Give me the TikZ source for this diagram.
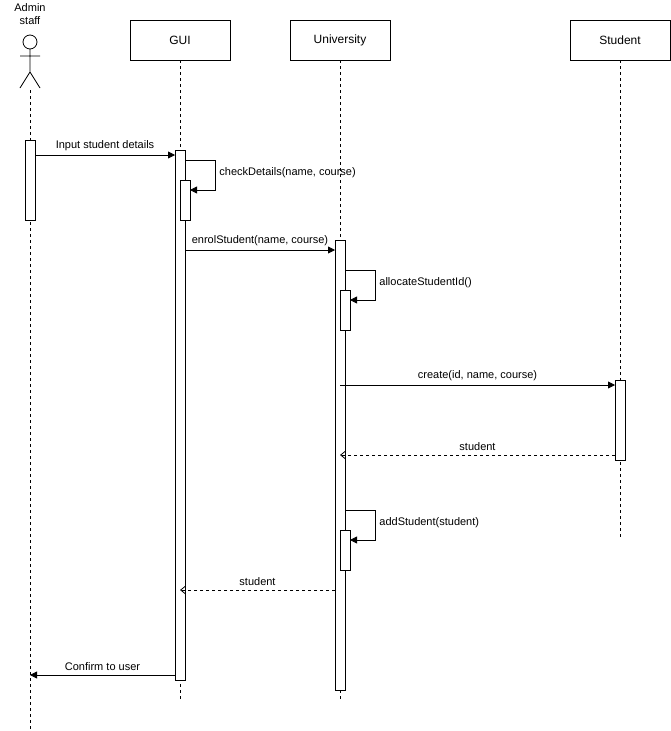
\documentclass[tikz,border=0pt]{standalone}
\usepackage{fontspec}
\setmainfont{Liberation Sans}
\usetikzlibrary{arrows.meta}
\begin{document}
\begin{tikzpicture}[x=1pt,y=-1pt,line width=0.8pt,
  box/.style={draw,fill=white,minimum width=100pt,minimum height=40pt,font=\fontsize{12}{14}\selectfont},
  life/.style={dash pattern=on 3pt off 3pt},
  act/.style={draw,fill=white},
  msg/.style={-{Triangle[length=7pt,width=7pt]}},
  ret/.style={dashed,-{Straight Barb[length=5pt,width=8pt]}},
  lbl/.style={font=\fontsize{11}{13}\selectfont,inner sep=1pt},
  ml/.style={lbl,above=3pt}]
\useasboundingbox (0,0) rectangle (671,731);
% actor
\node[lbl,align=center] (adminlbl) at (30,14) {Admin\\staff};
\draw (30,42) circle (7);
\draw (30,49) -- (30,72) (20,56) -- (40,56) (30,72) -- (20,88) (30,72) -- (40,88);
\draw[life] (30,90) -- (30,731);
% lifeline boxes
\node[box] (gui) at (180,40) {GUI};
\node[box] (uni) at (340,40) {University};
\node[box] (stu) at (620,40) {Student};
\draw[life] (gui.south) -- (180,700);
\draw[life] (uni.south) -- (340,700);
\draw[life] (stu.south) -- (620,540);
% activations
\draw[act] (25,140) rectangle (35,220);
\draw[act] (175,150) rectangle (185,680);
\draw[act] (180,180) rectangle (190,220);
\draw[act] (335,240) rectangle (345,690);
\draw[act] (340,290) rectangle (350,330);
\draw[act] (340,530) rectangle (350,570);
\draw[act] (615,380) rectangle (625,460);
% coordinates
\coordinate (a1) at (35,155); \coordinate (g1) at (175,155);
\coordinate (g2) at (185,250); \coordinate (u2) at (335,250);
\coordinate (u3) at (340,385); \coordinate (s3) at (615,385);
\coordinate (s4) at (615,455); \coordinate (u4) at (340,455);
\coordinate (u5) at (335,590); \coordinate (g5) at (180,590);
\coordinate (g6) at (175,675); \coordinate (a6) at (30,675);
% messages
\draw[msg] (a1) -- node[ml] {Input student details} (g1);
\draw[msg] (185,160) -- (215,160) -- (215,190) -- (190,190);
\node[lbl,anchor=west] (cd) at (218,173) {checkDetails(name, course)};
\draw[msg] (g2) -- node[ml] {enrolStudent(name, course)} (u2);
\draw[msg] (345,270) -- (375,270) -- (375,300) -- (350,300);
\node[lbl,anchor=west] (al) at (378,283) {allocateStudentId()};
\draw[msg] (u3) -- node[ml] {create(id, name, course)} (s3);
\draw[ret] (s4) -- node[ml] {student} (u4);
\draw[msg] (345,510) -- (375,510) -- (375,540) -- (350,540);
\node[lbl,anchor=west] (as) at (378,523) {addStudent(student)};
\draw[ret] (u5) -- node[ml] {student} (g5);
\draw[msg] (g6) -- node[ml] {Confirm to user} (a6);
\end{tikzpicture}
\end{document}
